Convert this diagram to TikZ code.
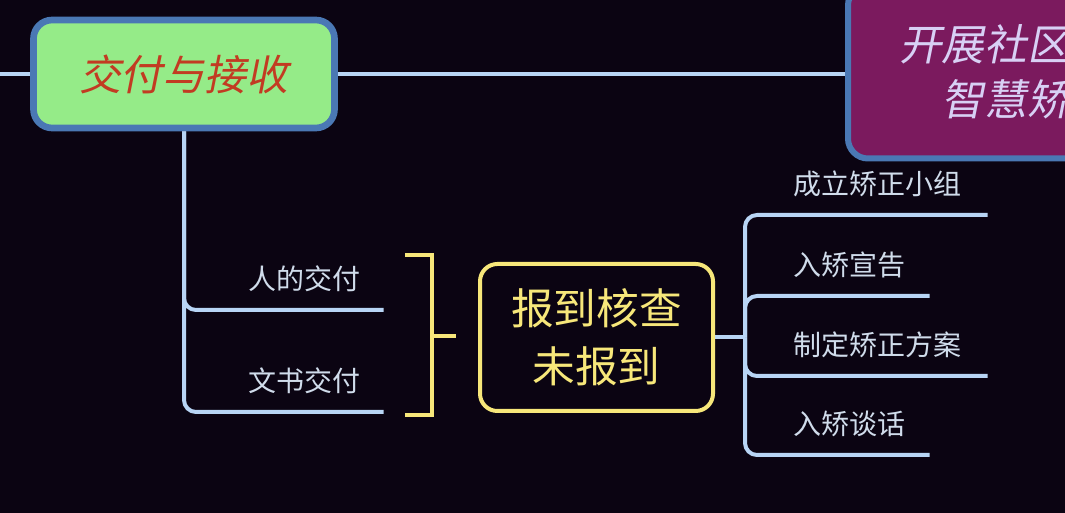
\documentclass[tikz,border=0pt]{standalone}
\usepackage{fontspec}
\setmainfont{Noto Sans CJK SC}
\newfontfamily\slantfont[FakeSlant=0.2]{Noto Sans CJK SC}
\usetikzlibrary{positioning, calc}
\definecolor{bgdark}{HTML}{0B0412}
\definecolor{linkblue}{HTML}{B8D5F5}
\definecolor{frameblue}{HTML}{4A78B4}
\definecolor{leafgreen}{HTML}{95EB88}
\definecolor{topicred}{HTML}{C23B22}
\definecolor{topicplum}{HTML}{7B1A5E}
\definecolor{plumtext}{HTML}{D8D0F5}
\definecolor{sumyellow}{HTML}{F7E77A}
\definecolor{leaftext}{HTML}{D0DCEB}
\tikzset{
	maintopic/.style={rectangle, rounded corners=15pt, draw=frameblue, line width=4.5pt,
		fill=topicplum, text=plumtext, align=center, font=\slantfont\fontsize{32}{41}\selectfont,
		minimum width=268.5pt, minimum height=129.75pt},
	subtopic/.style={rectangle, rounded corners=14pt, draw=frameblue, line width=5pt,
		fill=leafgreen, text=topicred, font=\slantfont\fontsize{31.5}{38}\selectfont,
		minimum width=225.75pt, minimum height=81pt},
	summbox/.style={rectangle, rounded corners=13pt, draw=sumyellow, line width=3pt,
		text=sumyellow, align=center, font=\fontsize{32}{43.5}\selectfont,
		minimum width=174.75pt, minimum height=110.25pt},
	leaf/.style={anchor=south west, inner xsep=0pt, inner ysep=15pt, text depth=0pt,
		align=left, text=leaftext, font=\fontsize{21}{25}\selectfont},
	branch/.style={draw=linkblue, line width=3pt},
	bracket/.style={draw=sumyellow, line width=3pt}
}

\begin{document}
\begin{tikzpicture}[x=0.75pt, y=-0.75pt]
		% Dark page
		\useasboundingbox (0,0) rectangle (1065,513);
		\fill[bgdark] (0,0) rectangle (1065,513);
		
		% Main topic, cut by the right edge
		\node[maintopic] (topic) at (1027,72) {开展社区矫正\\智慧矫正};
		% Green sub topic
		\node[subtopic] (hand) at (184,74) {交付与接收};
		
		% Line along the top
		\coordinate (lend) at (0,74);
		\draw[branch] (lend) -- (hand.west);
		\draw[branch] (hand.east) -- (hand.east -| topic.west);
		
		% Leaves under the sub topic
		\node[leaf, text width=101.25pt] (l1) at (248,310) {人的交付};
		\node[leaf, text width=101.25pt] (l2) at (248,412) {文书交付};
		\foreach \n in {l1, l2}
			\draw[branch, rounded corners=9pt] (hand.south) |- (\n.south east);
		
		% Summary bracket and its box
		\node[summbox] (summ) at (596.5,337.5) {报到核查\\未报到};
		\draw[bracket] (405,255) -- (432,255) -- (432,415) -- (405,415);
		\coordinate (bmid) at (432,336);
		\draw[bracket] (bmid) -- ++(24,0);
		
		% Leaves on the right of the box
		\node[leaf, text width=145.5pt] (r1) at (793,215) {成立矫正小组};
		\node[leaf, text width=102pt] (r2) at (793,296) {入矫宣告};
		\node[leaf, text width=145.5pt] (r3) at (793,376) {制定矫正方案};
		\node[leaf, text width=102pt] (r4) at (793,455) {入矫谈话};
		\coordinate (rj) at ($(summ.east)+(30,0)$);
		\draw[branch] (summ.east) -- (rj);
		\foreach \n in {r1, r2, r3, r4}
			\draw[branch, rounded corners=9pt] (rj) |- (\n.south east);
		
	\end{tikzpicture}
\end{document}
